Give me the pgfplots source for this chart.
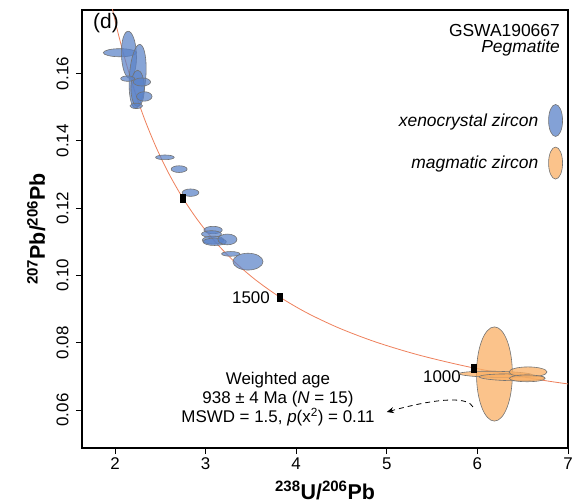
\documentclass[border=0pt]{standalone}
\usepackage{fontspec}
\setmainfont{Liberation Sans}
\usepackage{pgfplots}
\pgfplotsset{compat=1.18}
\usepackage{pgfplotstable}
\usetikzlibrary{arrows.meta}

\definecolor{xblue}{RGB}{90,130,200}
\definecolor{morange}{RGB}{250,175,100}
\definecolor{edgegray}{RGB}{115,115,115}
\definecolor{concord}{RGB}{238,128,92}

\newcommand\fs{\fontsize{17}{20}\selectfont}
\newcommand\fl{\fontsize{17.5}{20}\selectfont}

\pgfdeclareplotmark{ellip}{%
  \pgfmathsetmacro\ellangb{\ellang+90}%
  \pgfpathellipse{\pgfpointorigin}{\pgfpointpolar{\ellang}{\ellrx bp}}{\pgfpointpolar{\ellangb}{\ellry bp}}%
  \pgfusepathqfillstroke}

% x y rx ry (data units) ang (deg, screen)
\pgfplotstableread{
x y rx ry ang
2.055 0.1662 0.184 0.0012 0
2.154 0.1656 0.083 0.0070 2
2.250 0.1592 0.091 0.0095 -4
2.250 0.1556 0.074 0.0054 0
2.140 0.1585 0.077 0.0008 0
2.297 0.1575 0.096 0.0012 0
2.323 0.1532 0.086 0.0014 0
2.235 0.1504 0.070 0.0008 0
2.551 0.1351 0.103 0.0007 0
2.708 0.1316 0.088 0.0010 0
2.834 0.1246 0.092 0.0011 0
3.083 0.1135 0.101 0.0011 0
3.065 0.1123 0.110 0.0010 0
3.083 0.1105 0.119 0.0012 0
3.100 0.1100 0.129 0.0011 0
3.241 0.1107 0.105 0.0016 0
3.278 0.1064 0.101 0.0007 0
3.468 0.1041 0.166 0.0025 0
}\xenotable

\pgfplotstableread{
x y rx ry ang
6.188 0.0707 0.198 0.0140 0
6.204 0.0706 0.404 0.0009 -1
6.383 0.0697 0.363 0.0010 -1
6.559 0.0713 0.209 0.0015 0
6.550 0.0694 0.198 0.0010 0
}\magtable

\begin{document}
\begin{tikzpicture}
\useasboundingbox (-82bp,-56bp) rectangle (490bp,448bp);
\begin{axis}[
  at={(0,0)}, anchor=south west,
  scale only axis, width=486bp, height=438bp,
  xmin=1.636, xmax=7.0, ymin=0.0487, ymax=0.1789,
  xtick={2,3,4,5,6,7},
  ytick={0.06,0.08,0.10,0.12,0.14,0.16},
  scaled y ticks=false,
  /pgf/number format/assume math mode=true,
  yticklabel style={rotate=90, anchor=south, /pgf/number format/fixed, /pgf/number format/fixed zerofill, /pgf/number format/precision=2},
  yticklabel shift=4bp,
  tick label style={font=\fs},
  tick pos=left, tick align=outside,
  major tick length=6bp,
  tick style={black, line width=0.8bp},
  axis line style={line width=1.2bp},
  xlabel={\fontsize{21.5}{24}\selectfont\bfseries\textsuperscript{238}U/\textsuperscript{206}Pb},
  ylabel={\fontsize{21.5}{24}\selectfont\bfseries\textsuperscript{207}Pb/\textsuperscript{206}Pb},
  every axis x label/.style={at={(rel axis cs:0.5,0)}, anchor=base, yshift=-51bp},
  every axis y label/.style={at={(rel axis cs:0,0.5)}, xshift=-37bp, rotate=90, anchor=base},
  legend style={draw=none, fill=none, at={(rel axis cs:0.996,0.790)}, anchor=north east, font=\fl\itshape, row sep=10bp},
  legend plot pos=right, legend cell align=right,
]
\addlegendimage{legend image code/.code={\path (0,0); \draw[fill=xblue, fill opacity=0.75, draw=edgegray, line width=0.6bp] (15bp,0) ellipse [x radius=7bp, y radius=16bp];}}
\addlegendentry{xenocrystal zircon}
\addlegendimage{legend image code/.code={\path (0,0); \draw[fill=morange, fill opacity=0.75, draw=edgegray, line width=0.6bp] (15bp,0) ellipse [x radius=7bp, y radius=16bp];}}
\addlegendentry{magmatic zircon}

% concordia
\addplot[concord, line width=0.8bp, smooth, forget plot] coordinates {
(7.0950,0.067395) (6.6743,0.069042) (5.9593,0.072500) (5.3746,0.076186)
(4.8875,0.080122) (4.4756,0.084323) (4.1227,0.088807) (3.8170,0.093597)
(3.5497,0.098716) (3.3140,0.104187) (3.1046,0.110036) (2.9174,0.116292)
(2.7490,0.122986) (2.5968,0.130151) (2.4586,0.137820) (2.3324,0.146035)
(2.2170,0.154832) (2.1108,0.164261) (2.0129,0.174366) (1.9224,0.185200)};

% xenocrystal ellipses
\addplot[scatter, only marks, mark=ellip, forget plot,
  visualization depends on={90.6*\thisrow{rx} \as \ellrx},
  visualization depends on={3364*\thisrow{ry} \as \ellry},
  visualization depends on={\thisrow{ang} \as \ellang},
  scatter/@pre marker code/.code={\scope[fill=xblue, draw=edgegray, fill opacity=0.72, line width=0.6bp]},
  scatter/@post marker code/.code={\endscope}]
  table[x=x, y=y] {\xenotable};

% magmatic ellipses
\addplot[scatter, only marks, mark=ellip, forget plot,
  visualization depends on={90.6*\thisrow{rx} \as \ellrx},
  visualization depends on={3364*\thisrow{ry} \as \ellry},
  visualization depends on={\thisrow{ang} \as \ellang},
  scatter/@pre marker code/.code={\scope[fill=morange, draw=edgegray, fill opacity=0.75, line width=0.6bp]},
  scatter/@post marker code/.code={\endscope}]
  table[x=x, y=y] {\magtable};

% concordia age points
\addplot[only marks, mark=square*, mark size=2.6bp, mark options={black, fill=black, yscale=1.5}, forget plot]
  coordinates {(2.7490,0.122986) (3.8170,0.093597) (5.9593,0.072500)};

\node[anchor=east, font=\fs, inner sep=1bp] at (axis cs:3.722,0.0933) {1500};
\node[anchor=east, font=\fs, inner sep=1bp] at (axis cs:5.830,0.0698) {1000};

\node[font=\fontsize{21}{24}\selectfont] at (axis cs:1.901,0.1750) {(d)};
\node[anchor=base east, font=\fl, inner sep=0pt] at (axis cs:6.912,0.17098) {GSWA190667};
\node[anchor=base east, font=\fl\itshape, inner sep=0pt] at (axis cs:6.912,0.16622) {Pegmatite};

\node[anchor=base, font=\fs, inner sep=0pt] at (axis cs:3.799,0.06744) {Weighted age};
\node[anchor=base, font=\fs, inner sep=0pt] at (axis cs:3.799,0.06179) {938 ± 4 Ma (\textit{N} = 15)};
\node[anchor=base, font=\fs, inner sep=0pt] at (axis cs:3.799,0.05615) {MSWD = 1.5, \textit{p}(x\textsuperscript{2}) = 0.11};

\draw[black, line width=0.8bp, dash pattern=on 5bp off 4bp, -{Stealth[length=7bp,width=6bp]}]
  (axis cs:5.951,0.0609) .. controls (axis cs:5.90,0.0637) and (axis cs:5.62,0.0640) .. (axis cs:5.00,0.0594);
\end{axis}
\end{tikzpicture}
\end{document}
